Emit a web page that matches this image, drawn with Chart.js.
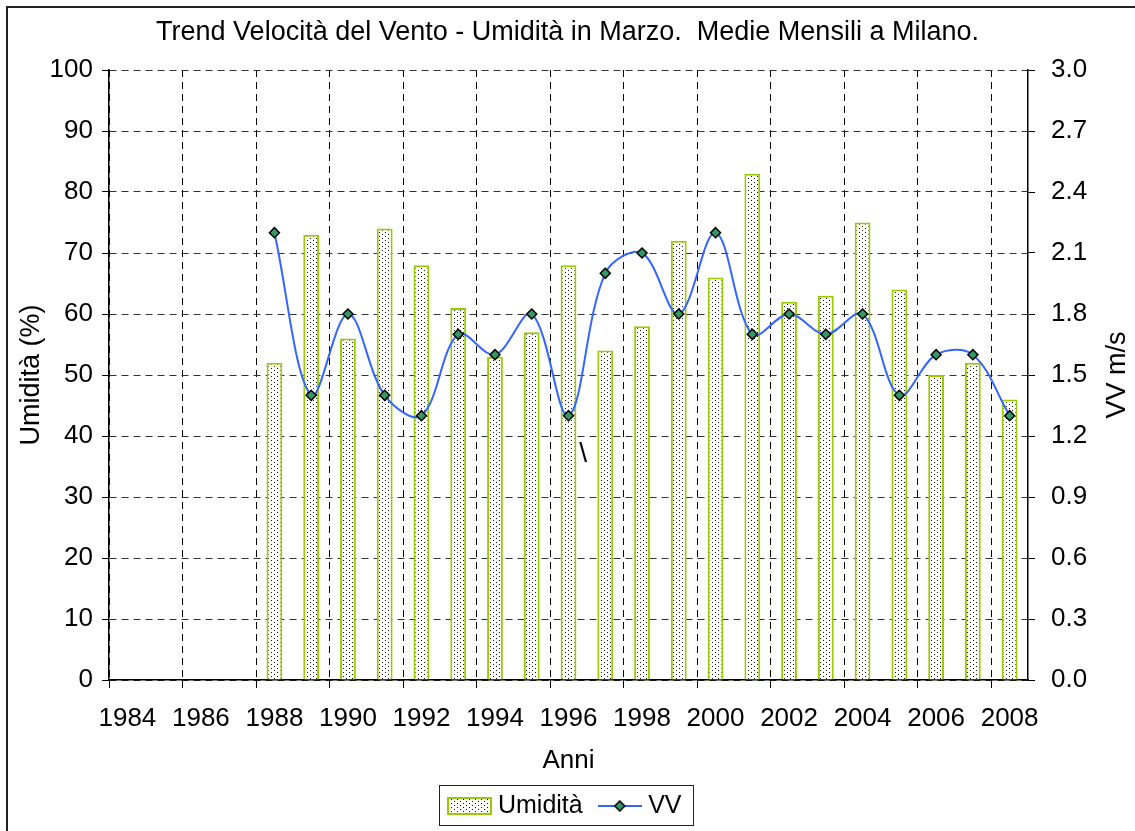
<!DOCTYPE html>
<html>
<head>
<meta charset="utf-8">
<title>Trend Velocità del Vento - Umidità in Marzo</title>
<script src="https://cdn.jsdelivr.net/npm/chart.js@4.4.1/dist/chart.umd.min.js"></script>
<style>
  html, body { margin: 0; padding: 0; background: #fff; }
  #wrap { width: 1135px; height: 831px; }
</style>
</head>
<body>
<div id="wrap"><canvas id="grafico" width="1135" height="831"></canvas></div>
<script>
// dati
const anni = ['1984', '1985', '1986', '1987', '1988', '1989', '1990', '1991', '1992', '1993', '1994',
              '1995', '1996', '1997', '1998', '1999', '2000', '2001', '2002', '2003', '2004', '2005',
              '2006', '2007', '2008'];
const umidita = [null, null, null, null, 52, 73, 56, 74, 68, 61, 53, 57, 68, 54, 58, 72, 66, 83, 62, 63, 75, 64, 50, 52, 46];
const vv = [null, null, null, null, 2.2, 1.4, 1.8, 1.4, 1.3, 1.7, 1.6, 1.8, 1.3, 2.0, 2.1, 1.8, 2.2, 1.7, 1.8, 1.7, 1.8, 1.4, 1.6, 1.6, 1.3];
const tickUmidita = [0, 10, 20, 30, 40, 50, 60, 70, 80, 90, 100];
const tickVV = [0, 0.3, 0.6, 0.9, 1.2, 1.5, 1.8, 2.1, 2.4, 2.7, 3.0];

const VERDE = '#99cc00';
const BLU = '#3366ff';
const PUNTO = '#339966';
const FONT = '"Liberation Sans", Arial, sans-serif';

Chart.defaults.font.family = FONT;
Chart.defaults.color = '#000';

// tassello a puntini per le barre
function tassello() {
    const c = document.createElement('canvas');
    c.width = 6; c.height = 4;
    const g = c.getContext('2d');
    g.fillStyle = '#fff';
    g.fillRect(0, 0, 6, 4);
    g.fillStyle = '#111';
    g.fillRect(1, 0, 1, 1);
    g.fillRect(4, 2, 1, 1);
    return c;
}

const canvas = document.getElementById('grafico');
const motivo = canvas.getContext('2d').createPattern(tassello(), 'repeat');

// icone legenda
function iconaBarre() {
    const c = document.createElement('canvas');
    c.width = 45; c.height = 18;
    const g = c.getContext('2d');
    g.fillStyle = g.createPattern(tassello(), 'repeat');
    g.fillRect(0, 0, 45, 18);
    g.strokeStyle = VERDE;
    g.lineWidth = 2;
    g.strokeRect(1, 1, 43, 16);
    return c;
}

function iconaLinea() {
    const c = document.createElement('canvas');
    c.width = 44; c.height = 12;
    const g = c.getContext('2d');
    g.strokeStyle = BLU;
    g.lineWidth = 2;
    g.beginPath();
    g.moveTo(0, 6);
    g.lineTo(44, 6);
    g.stroke();
    g.beginPath();
    g.moveTo(17, 6);
    g.lineTo(22, 1);
    g.lineTo(27, 6);
    g.lineTo(22, 11);
    g.closePath();
    g.fillStyle = PUNTO;
    g.fill();
    g.strokeStyle = '#000';
    g.lineWidth = 1.5;
    g.stroke();
    return c;
}

// cornice della legenda, titolo asse destro, bordo esterno
const extra = {
    id: 'extra',
    afterDatasetsDraw(chart) {
        const {ctx, scales} = chart;
        const sx = scales.x;
        const passo = sx.getPixelForValue(13) - sx.getPixelForValue(12);
        ctx.save();
        ctx.font = '28px ' + FONT;
        ctx.fillStyle = '#000';
        ctx.textAlign = 'center';
        ctx.textBaseline = 'middle';
        ctx.fillText('\\', sx.getPixelForValue(12) + 0.4 * passo, scales.y1.getPixelForValue(37));
        ctx.restore();
    },
    afterDraw(chart) {
        const {ctx, chartArea} = chart;
        ctx.save();

        // titolo asse destro
        ctx.font = '27px ' + FONT;
        ctx.fillStyle = '#000';
        ctx.textAlign = 'center';
        ctx.textBaseline = 'middle';
        ctx.translate(1118, (chartArea.top + chartArea.bottom) / 2);
        ctx.rotate(-Math.PI / 2);
        ctx.fillText('VV m/s', 0, 0);
        ctx.setTransform(1, 0, 0, 1, 0, 0);

        // cornice legenda
        const hb = chart.legend.legendHitBoxes;
        if (hb && hb.length) {
            const cy = hb[0].top + hb[0].height / 2;
            const ultimo = hb[hb.length - 1];
            const x0 = Math.round(hb[0].left - 6.5 - 8);
            const x1 = Math.round(ultimo.left + ultimo.width + 11);
            ctx.strokeStyle = '#222';
            ctx.lineWidth = 1;
            ctx.strokeRect(x0 + 0.5, Math.round(cy - 21) + 0.5, x1 - x0, 40);
        }

        // bordo esterno (solo alto e sinistra, immagine ritagliata)
        ctx.strokeStyle = '#222';
        ctx.lineWidth = 2;
        ctx.beginPath();
        ctx.moveTo(1135, 7);
        ctx.lineTo(7, 7);
        ctx.lineTo(7, 831);
        ctx.stroke();
        ctx.restore();
    }
};

const soloPari = c => (c.index % 2 === 0 ? '#000' : 'rgba(0,0,0,0)');

new Chart(canvas, {
    type: 'bar',
    data: {
        labels: anni,
        datasets: [
            {
                type: 'line',
                label: 'VV',
                data: vv,
                yAxisID: 'y2',
                order: 0,
                borderColor: BLU,
                borderWidth: 2,
                tension: 0.35,
                fill: false,
                pointStyle: 'rectRot',
                pointRadius: 5,
                pointBackgroundColor: PUNTO,
                pointBorderColor: '#000',
                pointBorderWidth: 1.5
            },
            {
                type: 'bar',
                label: 'Umidità',
                data: umidita,
                yAxisID: 'y1',
                order: 1,
                backgroundColor: motivo,
                borderColor: VERDE,
                borderWidth: 2,
                barPercentage: 0.43,
                categoryPercentage: 1
            }
        ]
    },
    options: {
        responsive: false,
        devicePixelRatio: 1,
        animation: false,
        events: [],
        layout: { padding: { top: 0, left: 0, right: 0, bottom: 2.5 } },
        plugins: {
            tooltip: { enabled: false },
            title: {
                display: true,
                text: 'Trend Velocità del Vento - Umidità in Marzo.  Medie Mensili a Milano.',
                color: '#000',
                font: { size: 27, weight: 'normal' },
                padding: { top: 16.8, bottom: 20.8 }
            },
            legend: {
                position: 'bottom',
                labels: {
                    usePointStyle: true,
                    pointStyleWidth: 32,
                    padding: 21,
                    color: '#000',
                    font: { size: 25 },
                    generateLabels: () => [
                        { text: 'Umidità', pointStyle: iconaBarre(), fillStyle: 'rgba(0,0,0,0)', strokeStyle: 'rgba(0,0,0,0)', lineWidth: 0, hidden: false, datasetIndex: 1 },
                        { text: 'VV', pointStyle: iconaLinea(), fillStyle: 'rgba(0,0,0,0)', strokeStyle: 'rgba(0,0,0,0)', lineWidth: 0, hidden: false, datasetIndex: 0 }
                    ]
                }
            }
        },
        scales: {
            x: {
                offset: true,
                afterFit: s => { s.height = 92.5; },
                grid: { offset: true, color: soloPari, tickColor: soloPari, lineWidth: 1, tickLength: 8 },
                border: { color: '#000', width: 1.5, dash: [7, 5] },
                ticks: {
                    autoSkip: false,
                    maxRotation: 0,
                    padding: 15,
                    color: '#000',
                    font: { size: 26 },
                    callback: (v, i) => (i % 2 === 0 ? anni[i] : '')
                },
                title: { display: true, text: 'Anni', color: '#000', font: { size: 26 }, padding: { top: 0, bottom: -4 } }
            },
            y1: {
                position: 'left',
                min: 0,
                max: 100,
                afterBuildTicks: s => { s.ticks = tickUmidita.map(v => ({ value: v })); },
                afterFit: s => { s.width = 109; },
                grid: { color: '#333', lineWidth: 1, tickColor: '#000', tickLength: 7 },
                border: { color: '#000', width: 1.5, dash: [7, 5] },
                ticks: { padding: 9, color: '#000', font: { size: 26 } },
                title: { display: true, text: 'Umidità (%)', color: '#000', font: { size: 27 }, padding: { top: 15, bottom: 0 } }
            },
            y2: {
                position: 'right',
                min: 0,
                max: 3,
                afterBuildTicks: s => { s.ticks = tickVV.map(v => ({ value: v })); },
                afterFit: s => { s.width = 107; },
                grid: { drawOnChartArea: false, tickColor: '#000', tickLength: 7 },
                border: { color: '#000', width: 1.5 },
                ticks: { padding: 16, color: '#000', font: { size: 26 }, callback: v => v.toFixed(1) }
            }
        }
    },
    plugins: [extra]
});
</script>
</body>
</html>
